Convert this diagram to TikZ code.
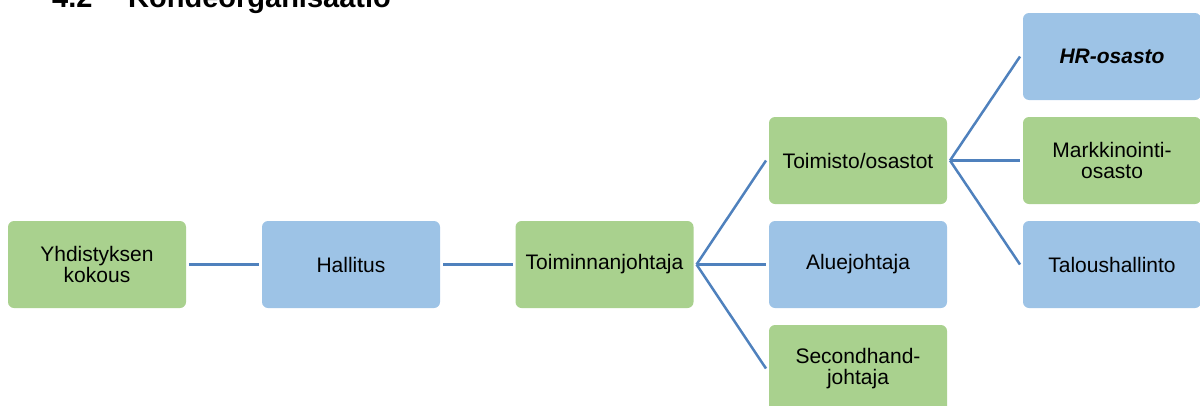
\documentclass[tikz,border=0pt]{standalone}
\usepackage{fontspec}
\setmainfont{Liberation Sans}
\definecolor{boxgreen}{HTML}{A9D18E}
\definecolor{boxblue}{HTML}{9DC3E6}
\definecolor{linkblue}{HTML}{4F81BD}
\tikzset{
  orgbox/.style={rectangle, rounded corners=6pt, minimum width=178pt, minimum height=87pt,
    inner sep=0pt, outer sep=3pt, align=center, text=black,
    font=\fontsize{21}{21}\selectfont},
  greenbox/.style={orgbox, fill=boxgreen},
  bluebox/.style={orgbox, fill=boxblue},
  link/.style={draw=linkblue, line width=2.5pt},
  titletext/.style={anchor=base west, inner sep=0pt, font=\fontsize{29}{29}\selectfont\bfseries}
}
\begin{document}
\begin{tikzpicture}[x=1pt,y=-1pt]
\useasboundingbox (0,0) rectangle (1200,405);
\clip (0,0) rectangle (1200,405);
\node[titletext] (num) at (52,7) {4.2};
\node[titletext] (title) at (128,7) {Kohdeorganisaatio};
\node[greenbox] (Y) at (97,264.5) {Yhdistyksen\\kokous};
\node[bluebox] (H) at (351,264.5) {Hallitus};
\node[greenbox] (T) at (604.5,264.5) {Toiminnanjohtaja};
\node[greenbox] (O) at (858,160.5) {Toimisto/osastot};
\node[bluebox] (A) at (858,264.5) {Aluejohtaja};
\node[greenbox] (S) at (858,368.5) {Secondhand-\\johtaja};
\node[bluebox] (HR) at (1112,56.5) {\textbf{\textit{HR-osasto}}};
\node[greenbox] (M) at (1112,160.5) {Markkinointi-\\osasto};
\node[bluebox] (L) at (1112,264.5) {Taloushallinto};
\draw[link] (Y.east) -- (H.west);
\draw[link] (H.east) -- (T.west);
\draw[link] (T.east) -- (O.west);
\draw[link] (T.east) -- (A.west);
\draw[link] (T.east) -- (S.west);
\draw[link] (O.east) -- (HR.west);
\draw[link] (O.east) -- (M.west);
\draw[link] (O.east) -- (L.west);
\end{tikzpicture}
\end{document}
